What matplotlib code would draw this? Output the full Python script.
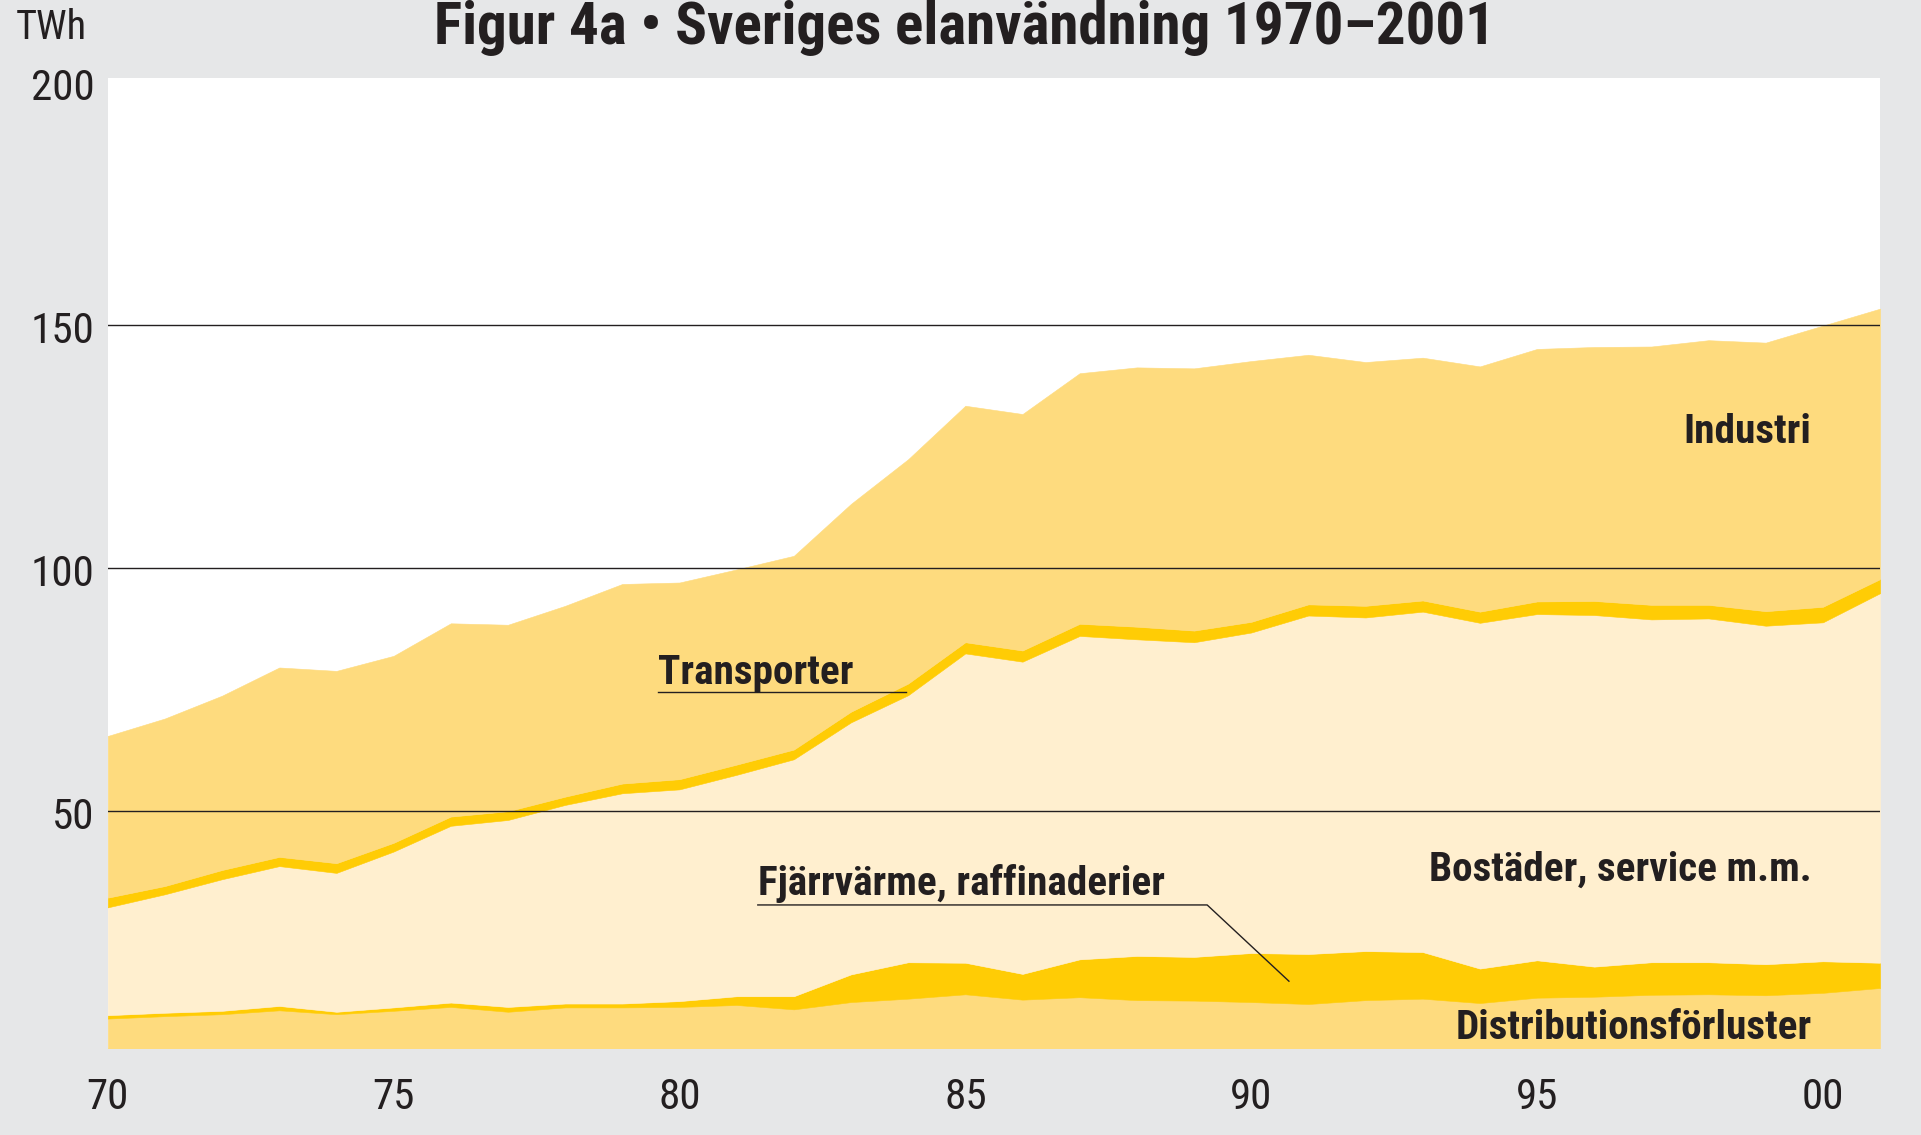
import matplotlib
matplotlib.use("Agg")
import matplotlib.pyplot as plt
from matplotlib import font_manager
import numpy as np

# ---- data (TWh) ----
years = list(range(1970, 2002))
distributionsforluster = [7.2, 7.7, 8.1, 8.9, 8.1, 8.8, 9.6, 8.6, 9.5, 9.5, 9.6, 10.0, 9.1, 10.6, 11.3, 12.2,
                          11.1, 11.6, 11.0, 10.9, 10.6, 10.2, 11.0, 11.3, 10.4, 11.5, 11.7, 12.1, 12.2, 12.0, 12.5, 13.5]
fjarrvarme = [0.7, 0.7, 0.7, 0.9, 0.5, 0.7, 0.9, 1.0, 0.8, 0.8, 1.2, 1.8, 2.7, 5.7, 7.5, 6.5,
              5.3, 7.8, 9.1, 9.0, 10.1, 10.3, 10.1, 9.6, 7.1, 7.7, 6.2, 6.7, 6.6, 6.4, 6.5, 5.2]
bostader = [22.2, 24.4, 27.1, 28.8, 28.6, 32.1, 36.4, 38.5, 40.9, 43.3, 43.6, 45.6, 48.8, 51.9, 55.0, 63.7,
            64.3, 66.6, 65.2, 64.8, 66.0, 69.7, 68.7, 70.1, 71.2, 71.3, 72.4, 70.6, 70.8, 69.7, 69.8, 76.1]
transporter = [2.0, 1.7, 1.9, 1.9, 2.0, 1.8, 1.9, 1.8, 1.7, 2.0, 2.1, 2.1, 2.0, 2.2, 2.4, 2.3,
               2.3, 2.5, 2.6, 2.4, 2.2, 2.3, 2.4, 2.3, 2.3, 2.6, 2.9, 3.0, 2.8, 3.0, 3.2, 2.9]
industri = [33.3, 34.5, 35.9, 39.0, 39.6, 38.5, 39.8, 38.4, 39.3, 41.1, 40.5, 40.2, 39.9, 42.8, 46.2, 48.7,
            48.7, 51.6, 53.4, 54.0, 53.7, 51.4, 50.2, 50.0, 50.5, 52.0, 52.3, 53.2, 54.5, 55.3, 57.9, 55.7]

series_names = ["Distributionsförluster", "Fjärrvärme, raffinaderier", "Bostäder, service m.m.",
                "Transporter", "Industri"]
yticks = [50, 100, 150, 200]
xtick_years = [1970, 1975, 1980, 1985, 1990, 1995, 2000]
xtick_labels = ["70", "75", "80", "85", "90", "95", "00"]

# ---- style ----
C_LIGHT = "#FEDB7E"
C_STRONG = "#FFCC05"
C_CREAM = "#FFEFCF"
BG = "#E6E7E8"
TXT = "#231F20"
colors = [C_LIGHT, C_STRONG, C_CREAM, C_STRONG, C_LIGHT]


def pick_font(patterns, weight):
    files = [f.fname for f in font_manager.fontManager.ttflist]
    low = [(p.lower().replace(" ", "").replace("_", "").replace("-", ""), p) for p in files]
    for pat in patterns:
        for lf, orig in low:
            name = lf.rsplit("/", 1)[-1]
            if name.startswith(pat):
                return font_manager.FontProperties(fname=orig)
    for f in font_manager.fontManager.ttflist:
        if f.stretch in ("condensed", "semi-condensed") and f.style == "normal":
            if (weight == "bold") == (f.weight in ("bold", 700)):
                return font_manager.FontProperties(fname=f.fname)
    return font_manager.FontProperties(family="DejaVu Sans", weight=weight)


REG = pick_font(["liberationsansnarrowregular", "robotocondensedregular", "notosanscondensed.",
                 "notosanscondensedregular", "opensanscondensedregular", "opensanscondlight",
                 "dejavusanscondensed."], "normal")
BOLD = pick_font(["liberationsansnarrowbold.", "robotocondensedbold.", "notosanscondensedbold.",
                  "opensanscondensedbold.", "opensanscondbold", "dejavusanscondensedbold."], "bold")

fig = plt.figure(figsize=(19.21, 11.35), dpi=100, facecolor=BG)
ax = fig.add_axes([0.0561, 0.0769, 0.9226, 0.8544])
ax.set_facecolor("white")

x = np.array(years, dtype=float)
layers = [distributionsforluster, fjarrvarme, bostader, transporter, industri]
base = np.zeros(len(years))
for vals, col in zip(layers, colors):
    top = base + np.array(vals)
    ax.fill_between(x, base, top, facecolor=col, edgecolor=col, linewidth=0.4, zorder=2)
    base = top

for yv in [50, 100, 150]:
    ax.axhline(yv, color=TXT, linewidth=1.0, zorder=5)

ax.set_xlim(1970, 2001)
ax.set_ylim(1.2, 200.9)
for s in ax.spines.values():
    s.set_visible(False)
ax.set_yticks(yticks)
ax.set_yticklabels([str(v) for v in yticks])
ax.set_xticks(xtick_years)
ax.set_xticklabels(xtick_labels)
ax.tick_params(axis="both", length=0, labelcolor=TXT)
ax.tick_params(axis="y", pad=9.5)
ax.tick_params(axis="x", pad=21)
for lab in ax.get_yticklabels() + ax.get_xticklabels():
    lab.set_fontproperties(REG)
    lab.set_fontsize(31)
for lab in ax.get_yticklabels():
    lab.set_transform(lab.get_transform() + matplotlib.transforms.ScaledTranslation(0, -0.02, fig.dpi_scale_trans))

# title and unit
fig.text(0.502, 0.961, "Figur 4a \u2022 Sveriges elanvändning 1970\u20132001", ha="center", va="baseline",
         fontproperties=BOLD, fontsize=42.5, color=TXT)
fig.text(0.008, 0.976, "TWh", ha="left", va="center", fontproperties=REG, fontsize=29, color=TXT)

# annotations
lab_kw = dict(fontproperties=BOLD, fontsize=29.7, color=TXT, zorder=6)
ax.text(1999.8, 125.7, "Industri", ha="right", va="baseline", **lab_kw)
ax.text(1999.8, 35.6, "Bostäder, service m.m.", ha="right", va="baseline", **lab_kw)
ax.text(1999.8, 2.9, "Distributionsförluster", ha="right", va="baseline", **lab_kw)
ax.text(1979.63, 76.2, "Transporter", ha="left", va="baseline", **lab_kw)
ax.plot([1979.63, 1983.96], [74.4, 74.4], color=TXT, lw=1.0, zorder=6)
ax.text(1981.37, 32.6, "Fjärrvärme, raffinaderier", ha="left", va="baseline", **lab_kw)
ax.plot([1981.37, 1989.23, 1990.66], [30.6, 30.6, 14.9], color=TXT, lw=1.0, zorder=6)

fig.savefig("out.png", dpi=100, facecolor=BG)
